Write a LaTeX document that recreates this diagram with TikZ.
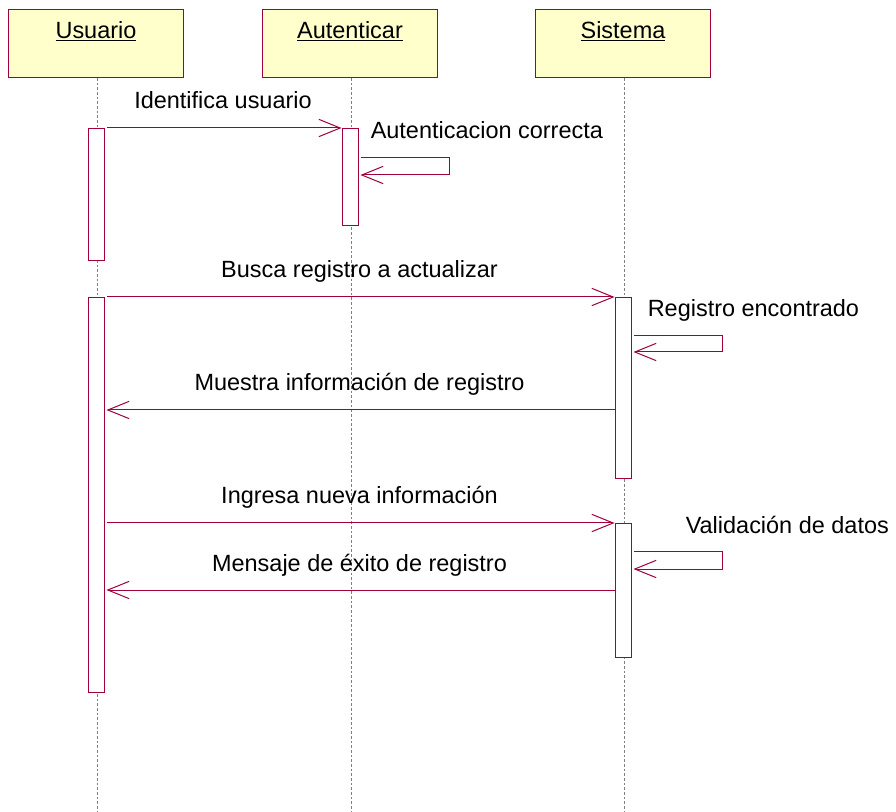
\documentclass[tikz,border=0pt]{standalone}
\usepackage{fontspec}
\setmainfont{Liberation Sans}
\usepackage{tikz}
\usetikzlibrary{positioning, arrows.meta}
\definecolor{UmlRed}{RGB}{160, 0, 60}
\definecolor{UmlYellow}{RGB}{255, 255, 204}
\definecolor{LifeGray}{RGB}{128, 128, 128}

\tikzset{
  actor/.style={draw=UmlRed, fill=UmlYellow, line width=0.75pt, minimum width=131pt,
                inner sep=3pt, text height=18.5pt, text depth=26.5pt, anchor=north},
  act/.style={draw=UmlRed, fill=white, line width=0.75pt, minimum width=12pt,
               inner sep=0pt, anchor=north},
  life/.style={LifeGray, line width=0.5pt, dash pattern=on 2pt off 1.5pt},
  msg/.style={UmlRed, line width=0.75pt, -{Straight Barb[length=16pt, width=13pt]}},
  msglabel/.style={anchor=base, inner sep=0pt, yshift=14.25pt, text=black},
  selflabel/.style={anchor=base west, inner sep=0pt, yshift=14.25pt, text=black}
}

\begin{document}
\begin{tikzpicture}[x=0.75pt, y=-0.75pt, font=\fontsize{17.6pt}{21pt}\selectfont]
      \useasboundingbox (0,0) rectangle (896,812);

      % Objects
      \node[actor] (usr) at (96,9) {\underline{Usuario}};
      \node[actor] (aut) at (350,9) {\underline{Autenticar}};
      \node[actor] (sis) at (623,9) {\underline{Sistema}};

      % Lifelines
      \foreach \o in {usr, aut, sis} {
        \draw[life] ([xshift=0.75pt]\o.south) -- ([xshift=0.75pt]\o.south |- 0,812);
      }

      % Activations
      \node[act, minimum height=99pt] (ua1) at (usr.south |- 0,128) {};
      \node[act, minimum height=296.25pt] (ua2) at (usr.south |- 0,297) {};
      \node[act, minimum height=72.75pt] (aa1) at (aut.south |- 0,128) {};
      \node[act, minimum height=135.75pt] (sa1) at (sis.south |- 0,297) {};
      \node[act, minimum height=100.5pt] (sa2) at (sis.south |- 0,523) {};

      % Messages
      \draw[msg, shorten <=1.5pt] (ua1.north east) -- (aa1.north west)
        node[msglabel, midway] {Identifica usuario};
      \draw[msg, shorten <=1.5pt] (aa1.east |- 0,158) -- ++(91,0) -- ++(0,17) -- ++(-89,0);
      \node[selflabel] (l2) at (aa1.east |- 0,158) {\hspace{9pt}Autenticacion correcta};

      \draw[msg, shorten <=1.5pt] (ua2.north east) -- (sa1.north west)
        node[msglabel, midway] {Busca registro a actualizar};
      \draw[msg, shorten <=1.5pt] (sa1.east |- 0,336) -- ++(91,0) -- ++(0,16) -- ++(-89,0);
      \node[selflabel] (l4) at (sa1.east |- 0,336) {\hspace{12pt}Registro encontrado};

      \draw[msg, shorten >=1.5pt] (sa1.west |- 0,410) -- (ua2.east |- 0,410)
        node[msglabel, midway] {Muestra información de registro};

      \draw[msg, shorten <=1.5pt] (ua2.east |- sa2.north) -- (sa2.north west)
        node[msglabel, midway] {Ingresa nueva información};
      \draw[msg, shorten <=1.5pt] (sa2.east |- 0,552) -- ++(91,0) -- ++(0,17) -- ++(-89,0);
      \node[selflabel] (l7) at (sa2.east |- 0,552) {\hspace{40.5pt}Validación de datos};

      \draw[msg, shorten >=1.5pt] (sa2.west |- 0,590) -- (ua2.east |- 0,590)
        node[msglabel, midway] {Mensaje de éxito de registro};
    \end{tikzpicture}
\end{document}
